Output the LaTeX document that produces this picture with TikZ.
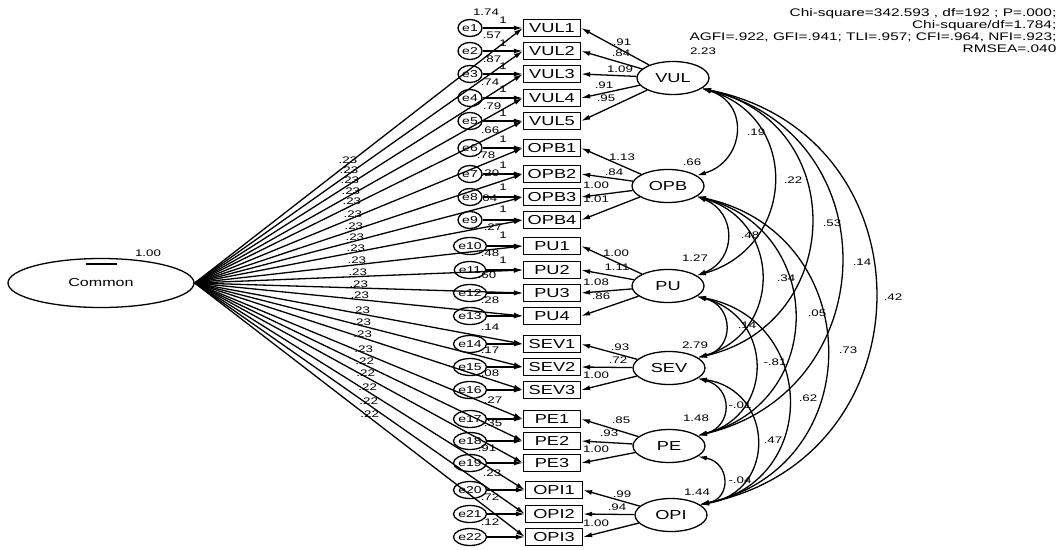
\documentclass[tikz,border=0pt]{standalone}
\usepackage{fontspec}
\setmainfont{Liberation Sans}[FakeStretch=1.4]
\usetikzlibrary{arrows.meta,shapes.geometric}
\begin{document}
\begin{tikzpicture}[x=1pt,y=-1pt,
  line width=1.3pt,
  arr/.style={-{Latex[length=9pt,width=5pt]}},
  darr/.style={{Latex[length=9pt,width=5pt]}-{Latex[length=9pt,width=5pt]}},
  obs/.style={draw, rectangle, minimum width=57pt, minimum height=17pt, inner sep=0pt, font=\fontsize{13}{13}\selectfont},
  err/.style={draw, ellipse, minimum width=24pt, minimum height=17pt, inner sep=0pt, font=\fontsize{10}{10}\selectfont},
  lat/.style={draw, ellipse, minimum width=72pt, minimum height=33pt, inner sep=0pt, font=\fontsize{13}{13}\selectfont},
  lbl/.style={inner sep=0pt, font=\fontsize{9.5}{9.5}\selectfont},
]
\useasboundingbox (0,0) rectangle (1064,549);

% statistics
\node[anchor=north east, align=right, inner sep=0pt, font=\fontsize{11}{11.8}\selectfont] (stats) at (1057,8)
  {Chi-square=342.593 , df=192 ; P=.000;\\ Chi-square/df=1.784;\\ AGFI=.922, GFI=.941; TLI=.957; CFI=.964, NFI=.923;\\ RMSEA=.040};

% common factor
\node[draw, ellipse, minimum width=186pt, minimum height=49pt, inner sep=0pt, font=\fontsize{11.5}{12}\selectfont] (common) at (101,283) {Common};
\node[lbl] (cvar) at (148,253) {1.00};
\draw[line width=1.5pt] (86,264) -- (117,264);

% observed indicators and error terms
\foreach \i/\x/\y/\t in {1/552/28/VUL1, 2/552/51/VUL2, 3/552/74/VUL3, 4/552/98/VUL4, 5/552/121/VUL5,
  6/552/148/OPB1, 7/552/174/OPB2, 8/552/197/OPB3, 9/552/220/OPB4,
  10/552/246/PU1, 11/552/270/PU2, 12/552/293/PU3, 13/552/316/PU4,
  14/552/344/SEV1, 15/552/367/SEV2, 16/552/390/SEV3,
  17/552/419/PE1, 18/552/441/PE2, 19/552/463/PE3,
  20/554/490/OPI1, 21/554/514/OPI2, 22/554/537/OPI3} {
  \node[obs] (b\i) at (\x,\y) {\t};
  \node[err] (e\i) at (470,\y) {e\i};
}
\foreach \i in {1,...,22} { \draw[arr] (e\i) -- (b\i); }

% error variances
\foreach \i/\x/\y/\v in {1/486/12/1.74, 2/492/35/.57, 3/492/59/.87, 4/490/82/.74, 5/492/106/.79,
  6/490/130/.66, 7/486/155/.78, 8/490/173/.20, 9/488/198/.04, 10/493/227/.27, 11/490/253/.48,
  12/487/275/.60, 13/490/300/.28, 14/490/327/.14, 15/490/350/.17, 16/490/373/.08, 17/493/400/.27,
  18/493/423/.35, 19/487/448/.91, 20/492/473/.23, 21/490/497/.72, 22/490/522/.12} {
  \node[lbl] (ev\i) at (\x,\y) {\v};
}
% fixed error paths
\foreach \i/\y in {1/20, 2/43, 3/66, 4/89, 5/113, 6/139, 7/165, 8/187, 9/209, 10/235, 11/260} {
  \node[lbl] (one\i) at (503,\y) {1};
}

% common method loadings
\foreach \i/\v [evaluate=\i as \pp using {0.464+0.003*\i}] in {1/.23, 2/.23, 3/.23, 4/.23, 5/.23, 6/.23, 7/.23, 8/.23,
  9/.23, 10/.23, 11/.23, 12/.23, 13/.23, 14/.23, 15/.23, 16/.23, 17/.23, 18/.22, 19/.22, 20/.22, 21/.22, 22/.22} {
  \draw[arr] (common.east) -- (b\i.west) node[lbl, pos=\pp, anchor=south] (cl\i) {\v};
}

% latent factors
\node[lat] (vul) at (673,78) {VUL};
\node[lat] (opb) at (668,186) {OPB};
\node[lat] (pu) at (668,286) {PU};
\node[lat] (sev) at (669,368) {SEV};
\node[lat] (pe) at (669,446) {PE};
\node[lat] (opi) at (671,515) {OPI};

\node[lbl] (vvul) at (703,51) {2.23};
\node[lbl] (vopb) at (692,162) {.66};
\node[lbl] (vpu) at (695,258) {1.27};
\node[lbl] (vsev) at (695,345) {2.79};
\node[lbl] (vpe) at (696,418) {1.48};
\node[lbl] (vopi) at (697,492) {1.44};

% factor loadings
\foreach \lt/\b/\v/\lx/\ly in {vul/1/.91/622/42, vul/2/.84/621/53, vul/3/1.09/620/69, vul/4/.91/604/85, vul/5/.95/606/98,
  opb/6/1.13/622/157, opb/7/.84/614/172, opb/8/1.00/596/185, opb/9/1.01/596/199,
  pu/10/1.00/616/253, pu/11/1.11/617/267, pu/12/1.08/596/282, pu/13/.86/601/296,
  sev/14/.93/620/347, sev/15/.72/618/360, sev/16/1.00/596/375,
  pe/17/.85/621/420, pe/18/.93/609/433, pe/19/1.00/596/449,
  opi/20/.99/622/494, opi/21/.94/617/507, opi/22/1.00/596/523} {
  \draw[arr] (\lt) -- (b\b.east);
  \node[lbl] (ld\b) at (\lx,\ly) {\v};
}

% covariances
\draw[darr] (vul.-20) .. controls +(48,14.5) and +(48,-14.5) .. (opb.20);
\draw[darr] (vul.-20) .. controls +(99,28.6) and +(99,-28.6) .. (pu.20);
\draw[darr] (vul.-20) .. controls +(148,34) and +(148,-34) .. (sev.20);
\draw[darr] (vul.-20) .. controls +(188,45) and +(188,-45) .. (pe.20);
\draw[darr] (vul.-20) .. controls +(232,47) and +(232,-47) .. (opi.20);
\draw[darr] (opb.-20) .. controls +(40,16) and +(40,-16) .. (pu.20);
\draw[darr] (opb.-20) .. controls +(85,25) and +(85,-25) .. (sev.20);
\draw[darr] (opb.-20) .. controls +(129,33) and +(129,-33) .. (pe.20);
\draw[darr] (opb.-20) .. controls +(171,37) and +(171,-37) .. (opi.20);
\draw[darr] (pu.-20) .. controls +(37,9) and +(37,-9) .. (sev.20);
\draw[darr] (pu.-20) .. controls +(77,20) and +(77,-20) .. (pe.20);
\draw[darr] (pu.-20) .. controls +(120,23) and +(120,-23) .. (opi.20);
\draw[darr] (sev.-20) .. controls +(35,9) and +(35,-9) .. (pe.20);
\draw[darr] (sev.-20) .. controls +(77,12) and +(77,-12) .. (opi.20);
\draw[darr] (pe.-20) .. controls +(32,6) and +(32,-6) .. (opi.20);

\node[lbl] (c1) at (756,132) {.19};
\node[lbl] (c2) at (793,180) {.22};
\node[lbl] (c3) at (832,223) {.53};
\node[lbl] (c4) at (862,262) {.14};
\node[lbl] (c5) at (893,297) {.42};
\node[lbl] (c6) at (750,235) {.48};
\node[lbl] (c7) at (786,278) {.34};
\node[lbl] (c8) at (817,313) {.05};
\node[lbl] (c9) at (848,350) {.73};
\node[lbl] (c10) at (747,325) {.14};
\node[lbl] (c11) at (775,362) {-.81};
\node[lbl] (c12) at (808,398) {.62};
\node[lbl] (c13) at (740,405) {-.01};
\node[lbl] (c14) at (773,440) {.47};
\node[lbl] (c15) at (740,480) {-.04};
\end{tikzpicture}
\end{document}
